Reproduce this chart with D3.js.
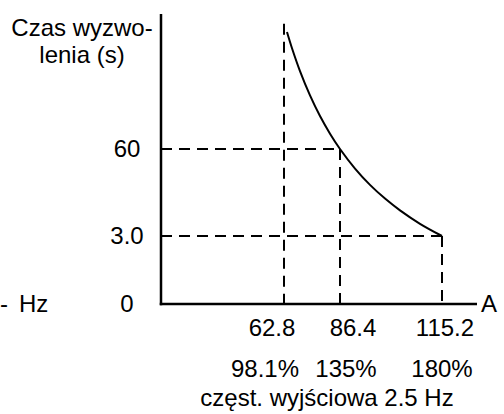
<!DOCTYPE html>
<html><head><meta charset="utf-8">
<script src="https://cdn.jsdelivr.net/npm/d3@7"></script>
<style>
html,body{margin:0;padding:0;background:#fff;}
text{font-family:"Liberation Sans",Arial,sans-serif;fill:#000;}
</style></head>
<body>
<svg id="c" width="504" height="414"></svg>
<script>
// ---- data ----
const currentTicks = [62.8, 86.4, 115.2];              // A
const currentLabels = ["62.8", "86.4", "115.2"];
const percentLabels = ["98.1%", "135%", "180%"];
const timeTicks = [0, 3.0, 60];                        // s
const timeLabels = ["0", "3.0", "60"];
const markerPoints = [[86.4, 60], [115.2, 3.0]];       // dashed guide corners
// trip curve: [current A, time s]
const curveA = [64.06, 66.17, 69.54, 73.76, 77.97, 82.19, 86.4, 90.64, 94.87, 99.11, 103.34, 108.99, 115.2];
const curveS = [181.3, 164.5, 140.8, 115.6, 94.2, 75.9, 60, 47.2, 36.5, 27.5, 19.8, 11.0, 3.0];
const yTitle = ["Czas wyzwo-", "lenia (s)"];
const xUnit = "A", leftUnit = "Hz";
const footnote = "częst. wyjściowa 2.5 Hz";

// ---- layout ----
const svg = d3.select("#c");
const FS = 24;
const x = d3.scaleLinear().domain([0, 62.8, 86.4, 115.2, 127]).range([161, 284, 340, 442, 477]);
const y = d3.scaleLinear().domain([0, 3, 60, 200]).range([304, 236, 149, 14]);

const dash = "11,7";
// vertical guide at 62.8 up to near top
svg.append("line").attr("x1", x(62.8)).attr("x2", x(62.8))
  .attr("y1", y(190)).attr("y2", y(0))
  .attr("stroke", "#000").attr("stroke-width", 2).attr("stroke-dasharray", dash);
markerPoints.forEach(([a, s]) => {
  svg.append("line").attr("x1", x(a)).attr("x2", x(a)).attr("y1", y(s)).attr("y2", y(0))
    .attr("stroke", "#000").attr("stroke-width", 2).attr("stroke-dasharray", dash);
  svg.append("line").attr("x1", x(0)).attr("x2", x(a)).attr("y1", y(s)).attr("y2", y(s))
    .attr("stroke", "#000").attr("stroke-width", 2).attr("stroke-dasharray", dash);
});

// curve
const pts = curveA.map((a, i) => [a, curveS[i]]);
svg.append("path").datum(pts)
  .attr("d", d3.line().x(d => x(d[0])).y(d => y(d[1])).curve(d3.curveCatmullRom))
  .attr("fill", "none").attr("stroke", "#000").attr("stroke-width", 2);

// axes
svg.append("line").attr("x1", x(0)).attr("x2", x(0)).attr("y1", y(200)).attr("y2", y(0) + 1.25)
  .attr("stroke", "#000").attr("stroke-width", 2.5);
svg.append("line").attr("x1", x(0) - 1.25).attr("x2", x(127)).attr("y1", y(0)).attr("y2", y(0))
  .attr("stroke", "#000").attr("stroke-width", 2.5);

// y labels
timeTicks.forEach((t, i) => {
  svg.append("text").attr("x", 127).attr("y", y(t)).attr("dy", "0.35em")
    .attr("text-anchor", "middle").attr("font-size", FS).text(timeLabels[i]);
});
// y title
svg.append("text").attr("x", 82).attr("y", 36).attr("text-anchor", "middle").attr("font-size", FS)
  .selectAll("tspan").data(yTitle).join("tspan")
  .attr("x", 82).attr("dy", (d, i) => i ? 27 : 0).text(d => d);

// x labels
const curDx = [-12, 13, 3];
const pctDx = [-19, 6, 0];
currentTicks.forEach((v, i) => {
  svg.append("text").attr("x", x(v) + curDx[i]).attr("y", 336).attr("text-anchor", "middle")
    .attr("font-size", FS).text(currentLabels[i]);
  svg.append("text").attr("x", x(v) + pctDx[i]).attr("y", 377).attr("text-anchor", "middle")
    .attr("font-size", FS).text(percentLabels[i]);
});
svg.append("text").attr("x", 327).attr("y", 406).attr("text-anchor", "middle")
  .attr("font-size", FS).text(footnote);

// units
svg.append("text").attr("x", 481).attr("y", y(0)).attr("dy", "0.35em").attr("font-size", FS).text(xUnit);
svg.append("text").attr("x", 19).attr("y", y(0)).attr("dy", "0.35em").attr("font-size", FS).text(leftUnit);
svg.append("text").attr("x", 0).attr("y", y(0)).attr("dy", "0.35em").attr("font-size", FS).text("-");
</script>
</body></html>
